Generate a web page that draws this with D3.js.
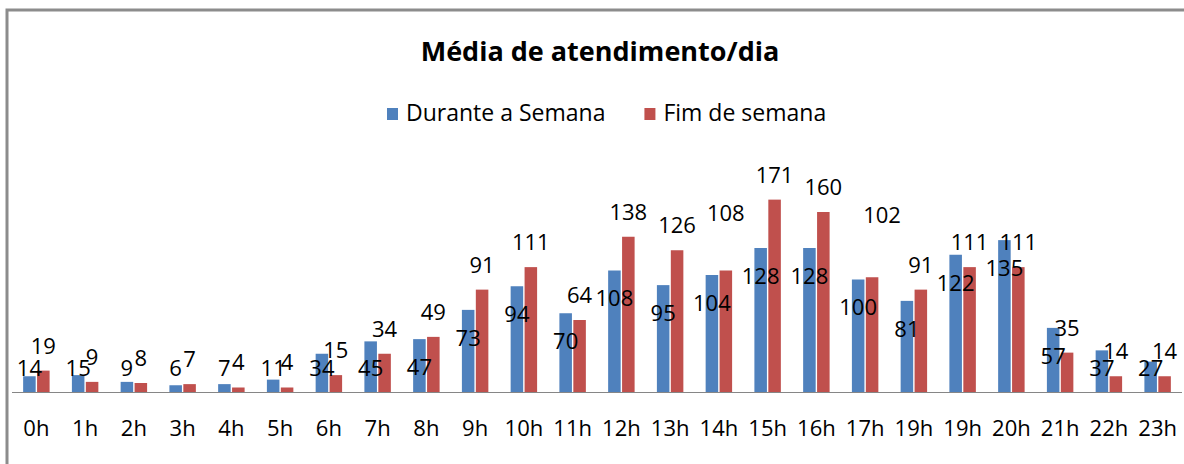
<!DOCTYPE html>
<html>
	<head>
		<meta charset="utf-8">
		<script src="https://d3js.org/d3.v7.min.js"></script>
		<style>
			body { margin: 0; background: #fff; }
			text { font-family: "Open Sans", sans-serif; fill: #000; }
		</style>
	</head>
	<body>
		<script type="text/javascript">
			// categories (the source repeats "19h" at position 18)
			var hours = ["0h","1h","2h","3h","4h","5h","6h","7h","8h","9h","10h","11h",
				"12h","13h","14h","15h","16h","17h","19h","19h","20h","21h","22h","23h"];
			var weekday = [14,15,9,6,7,11,34,45,47,73,94,70,108,95,104,128,128,100,81,122,135,57,37,27];
			var weekend = [19,9,8,7,4,4,15,34,49,91,111,64,138,126,108,171,160,102,91,111,111,35,14,14];
			var seriesNames = ["Durante a Semana", "Fim de semana"];
			var colors = ["#4f81bd", "#c0504d"];

			// two weekend labels were dragged by hand in the original
			var weekendLabelShift = { 14: [0, -32], 17: [10, -37] };

			var width = 1184, height = 464;
			var baseY = 392;

			var svg = d3.select("body").append("svg")
				.attr("width", width)
				.attr("height", height);

			// chart frame (runs off the right and bottom edges)
			svg.append("rect")
				.attr("x", 7).attr("y", 10)
				.attr("width", 1300).attr("height", 600)
				.attr("fill", "none")
				.attr("stroke", "#8c8c8c")
				.attr("stroke-width", 3);

			var x = d3.scaleBand()
				.domain(d3.range(hours.length))
				.range([12, 1182]);

			var y = d3.scaleLinear()
				.domain([0, 200])
				.range([baseY, baseY - 200 * 1.125]);

			var bw = x.bandwidth() / 3.5;   // gap width 150%

			// title
			svg.append("text")
				.attr("x", 600).attr("y", 61)
				.attr("text-anchor", "middle")
				.style("font-size", "27px")
				.style("font-weight", "bold")
				.text("Média de atendimento/dia");

			// legend
			var legend = svg.append("g");
			var lx = 387;
			seriesNames.forEach(function (name, i) {
				legend.append("rect")
					.attr("x", lx).attr("y", 108)
					.attr("width", 11).attr("height", 12)
					.attr("fill", colors[i]);
				var t = legend.append("text")
					.attr("x", lx + 19).attr("y", 121)
					.style("font-size", "23px")
					.text(name);
				lx += 19 + t.node().getComputedTextLength() + 39;
			});

			var series = [weekday, weekend];
			series.forEach(function (vals, s) {
				svg.append("g").selectAll("rect")
					.data(vals)
					.enter()
					.append("rect")
						.attr("x", function (d, i) { return x(i) + 0.75 * bw + s * bw + 0.7; })
						.attr("y", function (d) { return y(d); })
						.attr("width", bw - 1.4)
						.attr("height", function (d) { return baseY - y(d); })
						.attr("fill", colors[s]);
			});

			// axis line
			svg.append("line")
				.attr("x1", 12).attr("x2", 1182)
				.attr("y1", baseY + 0.5).attr("y2", baseY + 0.5)
				.attr("stroke", "#868686")
				.attr("stroke-width", 1);

			// category labels
			svg.append("g").selectAll("text")
				.data(hours)
				.enter()
				.append("text")
					.attr("x", function (d, i) { return x(i) + x.bandwidth() / 2; })
					.attr("y", 436)
					.attr("text-anchor", "middle")
					.style("font-size", "22px")
					.text(function (d) { return d; });

			// weekday labels: sit inside the bar top, never lower than a floor
			svg.append("g").selectAll("text")
				.data(weekday)
				.enter()
				.append("text")
					.attr("x", function (d, i) { return x(i) + 1.25 * bw; })
					.attr("y", function (d) { return Math.min(y(d) + 28, baseY - 24); })
					.attr("dy", "0.36em")
					.attr("text-anchor", "middle")
					.style("font-size", "22px")
					.text(function (d) { return d; });

			// weekend labels: above the bar
			svg.append("g").selectAll("text")
				.data(weekend)
				.enter()
				.append("text")
					.attr("x", function (d, i) {
						var sh = weekendLabelShift[i] || [0, 0];
						return x(i) + 2.25 * bw + sh[0];
					})
					.attr("y", function (d, i) {
						var sh = weekendLabelShift[i] || [0, 0];
						return y(d) - 25 + sh[1];
					})
					.attr("dy", "0.36em")
					.attr("text-anchor", "middle")
					.style("font-size", "22px")
					.text(function (d) { return d; });
		</script>
	</body>
</html>
